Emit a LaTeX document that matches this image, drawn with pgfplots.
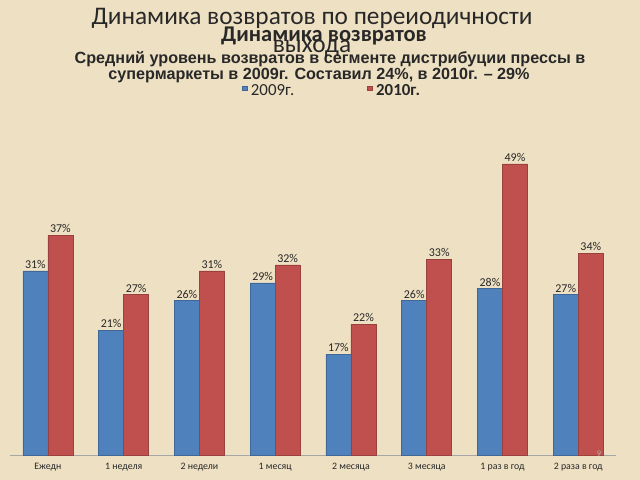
\documentclass[border=0pt]{standalone}
\usepackage{pgfplots}
\pgfplotsset{compat=1.18}
\usepackage{fontspec}
\setmainfont{Carlito}
\newfontfamily\arialfont{Liberation Sans}
\definecolor{bg}{RGB}{238,224,194}
\definecolor{blueb}{RGB}{79,129,189}
\definecolor{redb}{RGB}{192,80,77}
\definecolor{txt}{RGB}{40,40,40}
\begin{document}
\begin{tikzpicture}
\begin{scope}[x=0.025cm,y=-0.025cm]
\fill[bg] (0,0) rectangle (640,480);
\useasboundingbox (0,0) rectangle (640,480);
\node[txt,font=\fontsize{18}{19}\selectfont] at (312,18) {Динамика возвратов по переиодичности};
\node[txt,font=\fontsize{18}{19}\selectfont] at (312,48) {выхода};
\node[txt,font=\fontsize{16}{17}\selectfont\bfseries] at (324,36) {Динамика возвратов};
\node[txt,font=\arialfont\fontsize{11.5}{12}\selectfont\bfseries] at (330,59) {Средний уровень возвратов в сегменте дистрибуции прессы в};
\node[txt,font=\arialfont\fontsize{11.5}{12}\selectfont\bfseries] at (319,76) {супермаркеты в 2009г. Составил 24\%, в 2010г. – 29\%};
\end{scope}
\begin{axis}[
  at={(0.25cm,-11.375cm)}, anchor=south west,
  scale only axis, width=15.15cm, height=8.168cm,
  xmin=-0.5, xmax=7.5, ymin=0, ymax=55,
  ybar=0pt, bar width=0.625cm,
  axis x line*=bottom, axis y line=none,
  x axis line style={gray!70, line width=0.8pt, -},
  xtick={0,...,7},
  xticklabels={Ежедн,1 неделя,2 недели,1 месяц,2 месяца,3 месяца,1 раз в год,2 раза в год},
  xticklabel style={font=\fontsize{7}{8}\selectfont, text=txt, yshift=-2pt},
  major tick length=0pt,
  ytick=\empty,
  nodes near coords={\pgfmathprintnumber{\pgfplotspointmeta}\%},
  nodes near coords style={font=\fontsize{8.5}{9}\selectfont, text=txt, inner sep=1.5pt},
  /pgf/number format/assume math mode=true,
  legend columns=2,
  legend style={at={(0.532,1.115)}, anchor=center, draw=none, fill=none,
    font=\fontsize{12}{13}\selectfont, text=txt,
    /tikz/every odd column/.append style={column sep=0.5pt},
    /tikz/every even column/.append style={column sep=1.75cm}},
  legend image code/.code={\fill[#1] (0.1cm,0cm) rectangle (0.22cm,0.12cm);},
]
\addplot[fill=blueb, draw=blueb!80!black] coordinates {(0,31) (1,21) (2,26) (3,29) (4,17) (5,26) (6,28) (7,27)};
\addplot[fill=redb, draw=redb!80!black] coordinates {(0,37) (1,27) (2,31) (3,32) (4,22) (5,33) (6,49) (7,34)};
\legend{2009г.,\textbf{2010г.}}
\end{axis}
\begin{scope}[x=0.025cm,y=-0.025cm]
\node[gray!60,font=\fontsize{6}{7}\selectfont,inner sep=0pt] at (599,454) {9};
\end{scope}
\end{tikzpicture}
\end{document}
